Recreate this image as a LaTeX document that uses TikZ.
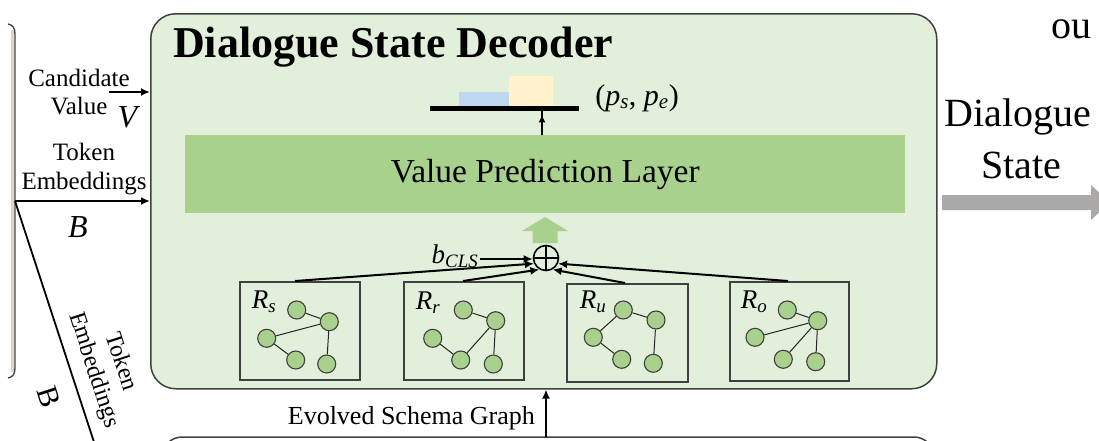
\documentclass[tikz,border=0pt]{standalone}
\usepackage{fontspec}
\setmainfont{Liberation Serif}
\usetikzlibrary{arrows.meta,calc}
\definecolor{decfill}{HTML}{E2EFDA}
\definecolor{laygreen}{HTML}{A9D18E}
\definecolor{barblue}{HTML}{BDD7EE}
\definecolor{baryellow}{HTML}{FFF2CC}
\definecolor{arrgray}{HTML}{ABA9A8}
\definecolor{edgedark}{HTML}{404040}
\definecolor{peach}{HTML}{E8D0C0}
\newcommand{\fs}[1]{\fontsize{#1}{#1}\selectfont}
\newcommand{\vsym}[2]{\textit{#1}\textsubscript{\textit{#2}}}
\begin{document}
\begin{tikzpicture}[x=1pt,y=-1pt,
  mainbox/.style={draw=edgedark, line width=1.5pt, fill=decfill, rounded corners=25pt, inner sep=0pt},
  gbox/.style={draw=edgedark, line width=1.5pt, inner sep=0pt, minimum width=120pt, minimum height=98pt},
  gnode/.style={circle, draw=edgedark, fill=laygreen, line width=1.1pt, minimum size=18pt, inner sep=0pt},
  gedge/.style={line width=1pt, draw=black!85},
  arr/.style={-{Latex[length=9pt,width=8pt]}, line width=1.8pt},
  lbl/.style={font=\fs{25}, inner sep=0pt, align=center},
  mlbl/.style={font=\fs{27}, inner sep=0pt},
]
\useasboundingbox (0,0) rectangle (1099,440);
\clip (0,0) rectangle (1099,440);

% left partial box
\draw[peach, line width=2.5pt] (12.5,30) -- (12.5,372);
\draw[edgedark, line width=1.3pt] (8,24) .. controls (13,25) and (15,28) .. (15,34) -- (15,368) .. controls (15,374) and (13,377) .. (8,378);

% bottom partial box
\draw[edgedark, line width=1.5pt, fill=white, rounded corners=20pt] (162,437) rectangle (934,520);

% main decoder box
\node[mainbox, anchor=north west, minimum width=786pt, minimum height=375pt] (dec) at (150,13) {};
\node[anchor=base west, font=\fs{44}\bfseries, inner sep=0pt] (title) at (173,57) {Dialogue State Decoder};

% value prediction layer
\node[fill=laygreen, anchor=north west, minimum width=720pt, minimum height=78pt, inner sep=0pt, font=\fs{33.5}] (vpl) at (185,135) {Value Prediction Layer};

% bar chart
\node[fill=barblue, anchor=south west, minimum width=50pt, minimum height=14pt, inner sep=0pt] (bb) at (459,106) {};
\node[fill=baryellow, anchor=south west, minimum width=44pt, minimum height=30pt, inner sep=0pt] (by) at (509,106) {};
\node[fill=black, anchor=north west, minimum width=149pt, minimum height=5pt, inner sep=0pt] (bar) at (430,106) {};
\node[font=\fs{30}, inner sep=0pt] (ps) at (637,98) {(\vsym{p}{s}, \vsym{p}{e})};
\coordinate (vtop) at (542,135);
\draw[-{Latex[length=8pt,width=7pt]}, line width=1.6pt] (vtop) -- (vtop |- bar.south) ++(0,3);

% fat green arrow
\fill[laygreen] (532.5,243) -- (532.5,231) -- (522,231) -- (545,217) -- (568,231) -- (557.5,231) -- (557.5,243) -- cycle;

% oplus
\node[circle, draw=black, line width=1.6pt, minimum size=25pt, inner sep=0pt] (plus) at (546,258) {};
\draw[line width=1.4pt] (plus.north) -- (plus.south) (plus.west) -- (plus.east);
\node[mlbl] (bcls) at (455,256) {\vsym{b}{CLS}};
\draw[arr, line width=2pt] (bcls.east) ++(2,3) coordinate (bst) -- (plus.west |- bst);

% graph boxes
\node[gbox, anchor=north west] (g1) at (239,281) {};
\node[gbox, anchor=north west] (g2) at (403,281) {};
\node[gbox, anchor=north west, minimum width=121pt] (g3) at (566,283) {};
\node[gbox, anchor=north west, minimum width=119pt, minimum height=99pt] (g4) at (729,281) {};

\draw[arr, line width=2pt] ($(g1.north west)+(56,0)$) -- (plus.205);
\draw[arr, line width=2pt] ($(g2.north west)+(60,0)$) -- (plus.240);
\draw[arr, line width=2pt] ($(g3.north west)+(59,0)$) -- (plus.300);
\draw[arr, line width=2pt] ($(g4.north west)+(59,0)$) -- (plus.335);

% box 1
\node[mlbl] (l1) at (264,302) {\vsym{R}{s}};
\node[gnode] (g1a) at (296.7,310) {};
\node[gnode] (g1b) at (329.3,321.7) {};
\node[gnode] (g1c) at (266.7,338.3) {};
\node[gnode] (g1d) at (295.7,360) {};
\node[gnode] (g1e) at (326.7,364) {};
\draw[gedge] (g1a) -- (g1b) (g1c) -- (g1b) (g1c) -- (g1d) (g1b) -- (g1e);
% box 2
\node[mlbl] (l2) at (428,303) {\vsym{R}{r}};
\node[gnode] (g2a) at (463.3,310) {};
\node[gnode] (g2b) at (495.7,320.7) {};
\node[gnode] (g2c) at (432.7,338.3) {};
\node[gnode] (g2d) at (460.7,360) {};
\node[gnode] (g2e) at (493.3,364) {};
\draw[gedge] (g2a) -- (g2b) (g2c) -- (g2d) (g2d) -- (g2b) (g2b) -- (g2e);
% box 3
\node[mlbl] (l3) at (593,302) {\vsym{R}{u}};
\node[gnode] (g3a) at (623.3,310) {};
\node[gnode] (g3b) at (656,320) {};
\node[gnode] (g3c) at (593.3,337.3) {};
\node[gnode] (g3d) at (621.7,359.3) {};
\node[gnode] (g3e) at (653.3,363.3) {};
\draw[gedge] (g3a) -- (g3b) (g3c) -- (g3a) (g3c) -- (g3d) (g3b) -- (g3e);
% box 4
\node[mlbl] (l4) at (754,302) {\vsym{R}{o}};
\node[gnode] (g4a) at (787.3,310) {};
\node[gnode] (g4b) at (817.7,320.7) {};
\node[gnode] (g4c) at (755,337.3) {};
\node[gnode] (g4d) at (783.3,359.3) {};
\node[gnode] (g4e) at (815.7,361.7) {};
\draw[gedge] (g4a) -- (g4b) (g4c) -- (g4b) (g4d) -- (g4b) (g4b) -- (g4e);

% left inputs
\node[lbl] (cand) at (79,78) {Candidate};
\node[lbl] (val) at (79,106) {Value};
\node[font=\fs{32}, inner sep=0pt, anchor=base] (V) at (129,127) {\textit{V}};
\coordinate (cst) at (109,92);
\draw[arr] (cst) -- (cst -| dec.west);
\node[lbl] (tok) at (84,152) {Token};
\node[lbl] (emb) at (84,184) {Embeddings};
\node[font=\fs{32}, inner sep=0pt, anchor=base] (B1) at (78,237) {\textit{B}};
\coordinate (split) at (15,201);
\draw[arr] (split) -- (split -| dec.west);
\coordinate (diagend) at (94,442);
\draw[line width=1.8pt] (split) -- (diagend);
\node[lbl, rotate=-72, font=\fs{24}] (tokemb) at (107,366) {Token\\[4pt]Embeddings};
\node[rotate=-72, font=\fs{30}, inner sep=0pt] (B2) at (49,397) {B};

% bottom
\coordinate (ebot) at (546,437);
\draw[arr] (ebot) -- (ebot |- dec.south);
\node[font=\fs{26}, inner sep=0pt, anchor=east] (esg) at (535,418) {Evolved Schema Graph};

% right output
\fill[arrgray] (942,195) -- (1091,195) -- (1091,185) -- (1110,202.5) -- (1091,220) -- (1091,210) -- (942,210) -- cycle;
\node[font=\fs{40}, inner sep=0pt] (dlg) at (1018,117) {Dialogue};
\node[font=\fs{40}, inner sep=0pt] (st) at (1021,165) {State};
\node[font=\fs{40}, inner sep=0pt, anchor=base west] (ou) at (1051,38) {ou};
\end{tikzpicture}
\end{document}
